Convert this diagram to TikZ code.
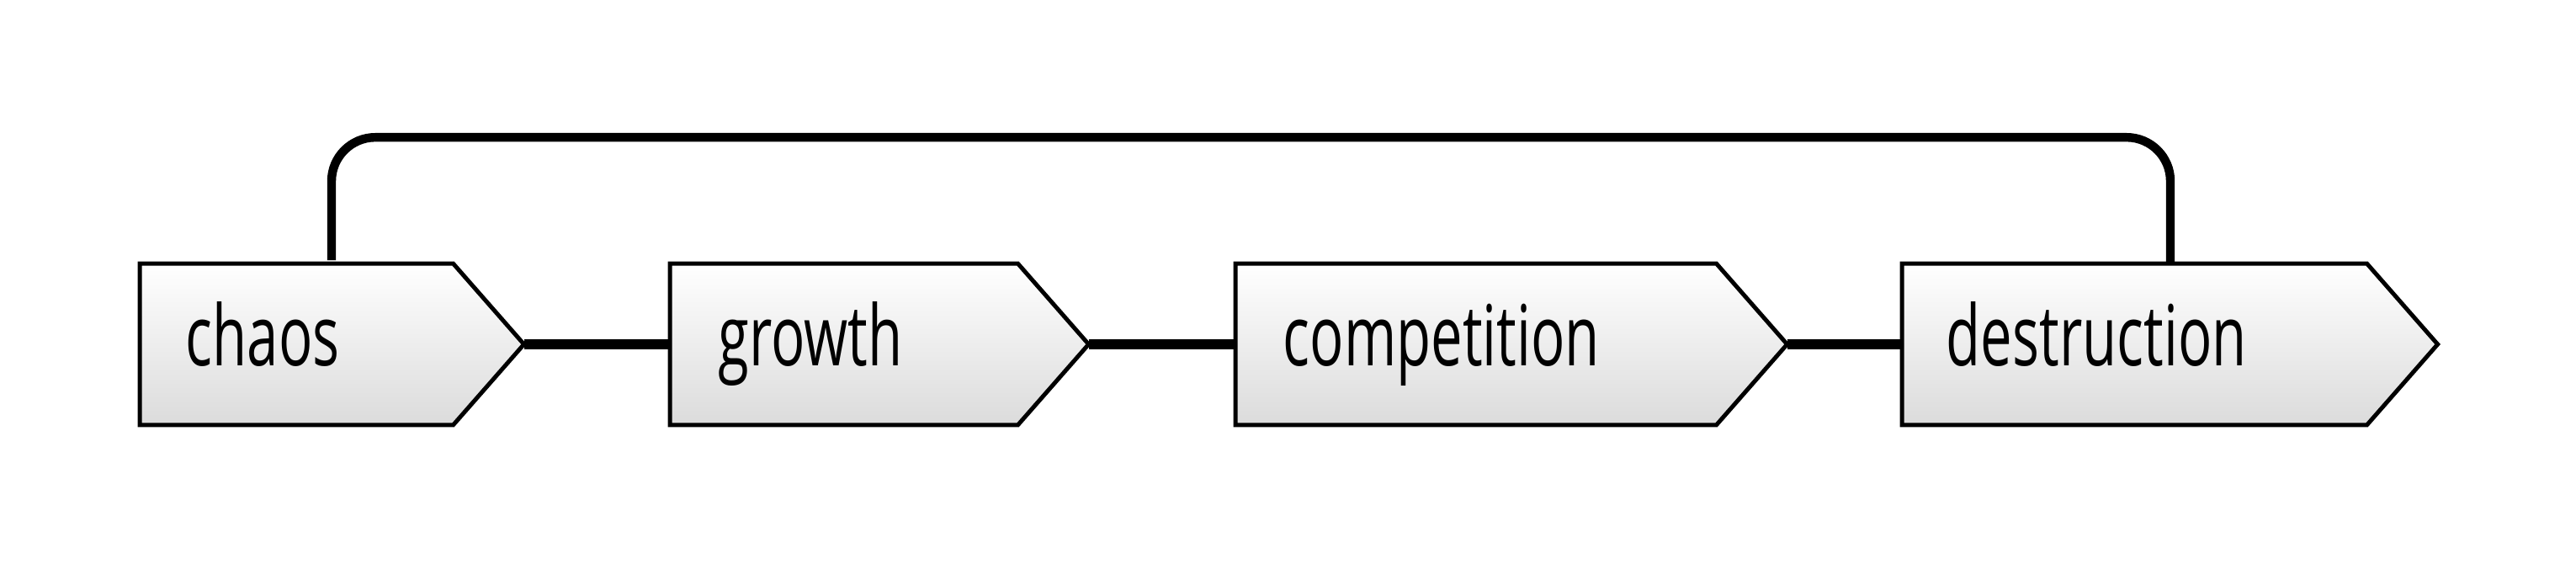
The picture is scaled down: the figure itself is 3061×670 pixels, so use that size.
\documentclass[tikz,border=0pt]{standalone}
\usepackage{fontspec}
\setmainfont{Open Sans}
\usetikzlibrary{calc}
\tikzset{
 body/.style={minimum height=47.5pt, inner sep=0pt, anchor=west},
 chev/.style={draw=black, line width=1.25pt, top color=white, bottom color=black!14, line join=miter},
 lbl/.style={anchor=base west, inner sep=0pt, font=\fontsize{25}{30}\selectfont},
 link/.style={line width=2.9pt},
 loopline/.style={line width=2.6pt, rounded corners=13pt},
}
\newcommand{\sqz}[1]{\scalebox{0.67}[1]{#1}}
\newcommand{\chevron}[1]{%
  \path[chev] (#1.north west) -- (#1.north east) -- ($(#1.east)+(84,0)$) -- (#1.south east) -- (#1.south west) -- cycle;
  \coordinate (#1-tip) at ($(#1.east)+(84,0)$);}
\begin{document}
\begin{tikzpicture}[x=0.25pt,y=-0.25pt]
\useasboundingbox[fill=white] (0,0) rectangle (3061,670);
\node[body, minimum width=92.75pt] (chaos) at (166,409) {};
\node[body, minimum width=103pt] (growth) at (796,409) {};
\node[body, minimum width=142.5pt] (competition) at (1468,409) {};
\node[body, minimum width=137.75pt] (destruction) at (2260,409) {};
\chevron{chaos}
\chevron{growth}
\chevron{competition}
\chevron{destruction}
\node[lbl] (chaos-l) at ($(chaos.west)+(54,26)$) {\sqz{chaos}};
\node[lbl] (growth-l) at ($(growth.west)+(57,26)$) {\sqz{growth}};
\node[lbl] (competition-l) at ($(competition.west)+(56,26)$) {\sqz{competition}};
\node[lbl] (destruction-l) at ($(destruction.west)+(52,26)$) {\sqz{destruction}};
\draw[link] (chaos-tip) -- (growth.west);
\draw[link] (growth-tip) -- (competition.west);
\draw[link] (competition-tip) -- (destruction.west);
\draw[loopline] ($(chaos.north west)+(228,-4)$) -- ($(chaos.north west)+(228,-150)$) -- ($(destruction.north west)+(319,-150)$) -- ($(destruction.north west)+(319,0)$);
\end{tikzpicture}
\end{document}
